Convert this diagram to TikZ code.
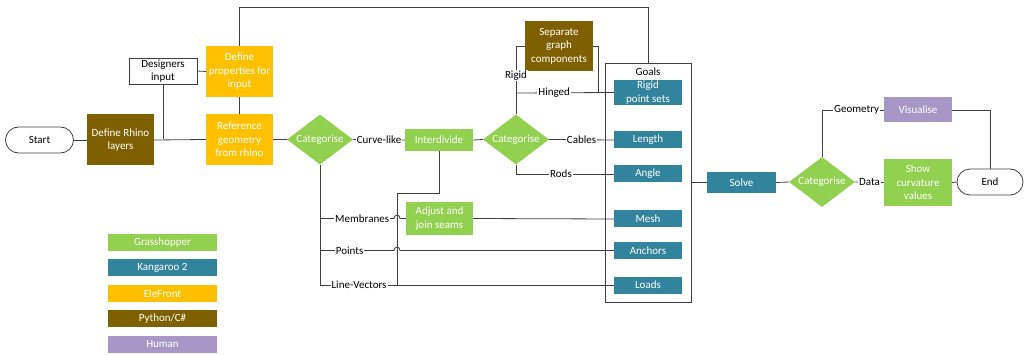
\documentclass[tikz,border=0pt]{standalone}
\usepackage{fontspec}
\setmainfont{Carlito}
\usetikzlibrary{shapes.geometric}
\definecolor{gh}{HTML}{92D050}
\definecolor{kg}{HTML}{31849B}
\definecolor{ef}{HTML}{FFC000}
\definecolor{py}{HTML}{7F6000}
\definecolor{hu}{HTML}{A797C6}
\definecolor{ln}{HTML}{404040}
\begin{document}
\begin{tikzpicture}[x=1pt,y=-1pt,
  every node/.style={font=\fontsize{11}{13.5}\selectfont},
  box/.style={rectangle, inner sep=1pt, align=center, text=white},
  dia/.style={diamond, fill=gh, text=white, inner sep=0pt, aspect=1.32, minimum width=66pt, minimum height=50pt},
  term/.style={rectangle, rounded corners=13pt, draw=ln, line width=0.8pt, fill=white, minimum width=68pt, minimum height=26pt, inner sep=0pt},
  conn/.style={draw=ln, line width=0.8pt},
  lab/.style={fill=white, inner sep=1pt, text=black}]
\useasboundingbox (0,0) rectangle (1024,355);

% goals container
\node[draw=ln, line width=0.8pt, fill=white, minimum width=86pt, minimum height=239pt, inner sep=0pt] (goals) at (648,182.5) {};
\node (goalslab) at (648,72) {Goals};

% nodes
\node[term] (start) at (39.5,140) {Start};
\node[box, fill=py, minimum width=67pt, minimum height=51pt] (rhino) at (120.5,140) {Define Rhino\\layers};
\node[box, draw=ln, line width=0.8pt, fill=white, text=black, minimum width=68pt, minimum height=26pt, inner sep=0pt] (desig) at (163,71) {Designers\\input};
\node[box, fill=ef, minimum width=67pt, minimum height=51pt] (props) at (239.5,71.5) {Define\\properties for\\input};
\node[box, fill=ef, minimum width=67pt, minimum height=51pt] (ref) at (239.5,139.5) {Reference\\geometry\\from rhino};
\node[dia] (cat1) at (320,139.5) {Categorise};
\node[box, fill=gh, minimum width=68pt, minimum height=22pt] (inter) at (439,140) {Interdivide};
\node[dia] (cat2) at (516,139.5) {Categorise};
\node[box, fill=py, minimum width=68pt, minimum height=50pt] (sep) at (559,46) {Separate\\graph\\components};
\node[box, fill=kg, minimum width=68pt, minimum height=25pt, inner sep=0pt] (rps) at (648,92.5) {Rigid\\point sets};
\node[box, fill=kg, minimum width=68pt, minimum height=17pt] (len) at (648,140) {Length};
\node[box, fill=kg, minimum width=68pt, minimum height=17pt] (ang) at (648,174) {Angle};
\node[box, fill=kg, minimum width=68pt, minimum height=17pt] (mesh) at (648,219) {Mesh};
\node[box, fill=kg, minimum width=68pt, minimum height=17pt] (anch) at (648,250.5) {Anchors};
\node[box, fill=kg, minimum width=68pt, minimum height=17pt] (loads) at (648,285) {Loads};
\node[box, fill=gh, minimum width=67pt, minimum height=33pt, inner sep=0pt] (adj) at (439.5,218.5) {Adjust and\\join seams};
\node[box, fill=kg, minimum width=69pt, minimum height=21pt] (solve) at (741.5,182.5) {Solve};
\node[dia] (cat3) at (822,182) {Categorise};
\node[box, fill=hu, minimum width=68pt, minimum height=25pt] (vis) at (918,110) {Visualise};
\node[box, fill=gh, minimum width=68pt, minimum height=47pt] (show) at (918,182.5) {Show\\curvature\\values};
\node[term, minimum width=66pt] (endn) at (990,182) {End};

% legend
\node[box, fill=gh, minimum width=109pt, minimum height=17pt] (lg1) at (162.5,242.5) {Grasshopper};
\node[box, fill=kg, minimum width=109pt, minimum height=17pt] (lg2) at (162.5,267.5) {Kangaroo 2};
\node[box, fill=ef, minimum width=109pt, minimum height=17pt] (lg3) at (162.5,293.5) {EleFront};
\node[box, fill=py, minimum width=109pt, minimum height=17pt] (lg4) at (162.5,318.5) {Python/C\#};
\node[box, fill=hu, minimum width=109pt, minimum height=17pt] (lg5) at (162.5,344.5) {Human};

% coordinates
\coordinate (topc) at (648,7);
\coordinate (hing) at (516,93);
\coordinate (bm) at (320,218.5);
\coordinate (bp) at (320,250.5);
\coordinate (bl) at (320,285);
\coordinate (ij) at (397,193);

% connectors
\path[conn] (start.east) -- (rhino.west);
\path[conn] (rhino.east) -- (ref.west);
\path[conn] (desig.south) -- (desig.south |- ref.west);
\path[conn] (desig.east) -- (props.west);
\path[conn] (props.south) -- (ref.north);
\path[conn] (props.north) |- (topc) -- (goals.north);
\path[conn] (ref.east) -- (cat1.west);
\path[conn] (cat1.east) -- node[lab]{Curve-like} (inter.west);
\path[conn] (inter.east) -- (cat2.west);
\path[conn] (cat2.north) |- node[lab, pos=0.285]{Rigid} (sep.west);
\path[conn] (hing) -- node[lab, pos=0.39]{Hinged} (rps.west);
\path[conn] (sep.east) -- ++(5,0) |- (rps.west);
\path[conn] (cat2.east) -- node[lab]{Cables} (len.west);
\path[conn] (cat2.south) |- node[lab, pos=0.73]{Rods} (ang.west);
\path[conn] (cat1.south) -- (bl);
\path[conn] (inter.south) |- (ij) -- (ij |- bl);
\path[conn] (bm) -- node[lab, pos=0.57]{Membranes} (394,218.5) .. controls (394,214) and (400,214) .. (400,218.5) -- (adj.west);
\path[conn] (bp) -- node[lab, pos=0.4]{Points} (394,250.5) .. controls (394,246) and (400,246) .. (400,250.5) -- (anch.west);
\path[conn] (bl) -- node[lab, pos=0.133]{Line-Vectors} (loads.west);
\path[conn] (adj.east) -- (mesh.west);
\path[conn] (goals.east) -- (solve.west);
\path[conn] (solve.east) -- (cat3.west);
\path[conn] (cat3.north) |- node[lab, pos=0.78]{Geometry} (vis.west);
\path[conn] (cat3.east) -- node[lab]{Data} (show.west);
\path[conn] (vis.east) -| (endn.north);
\path[conn] (show.east) -- (endn.west);
\end{tikzpicture}
\end{document}
